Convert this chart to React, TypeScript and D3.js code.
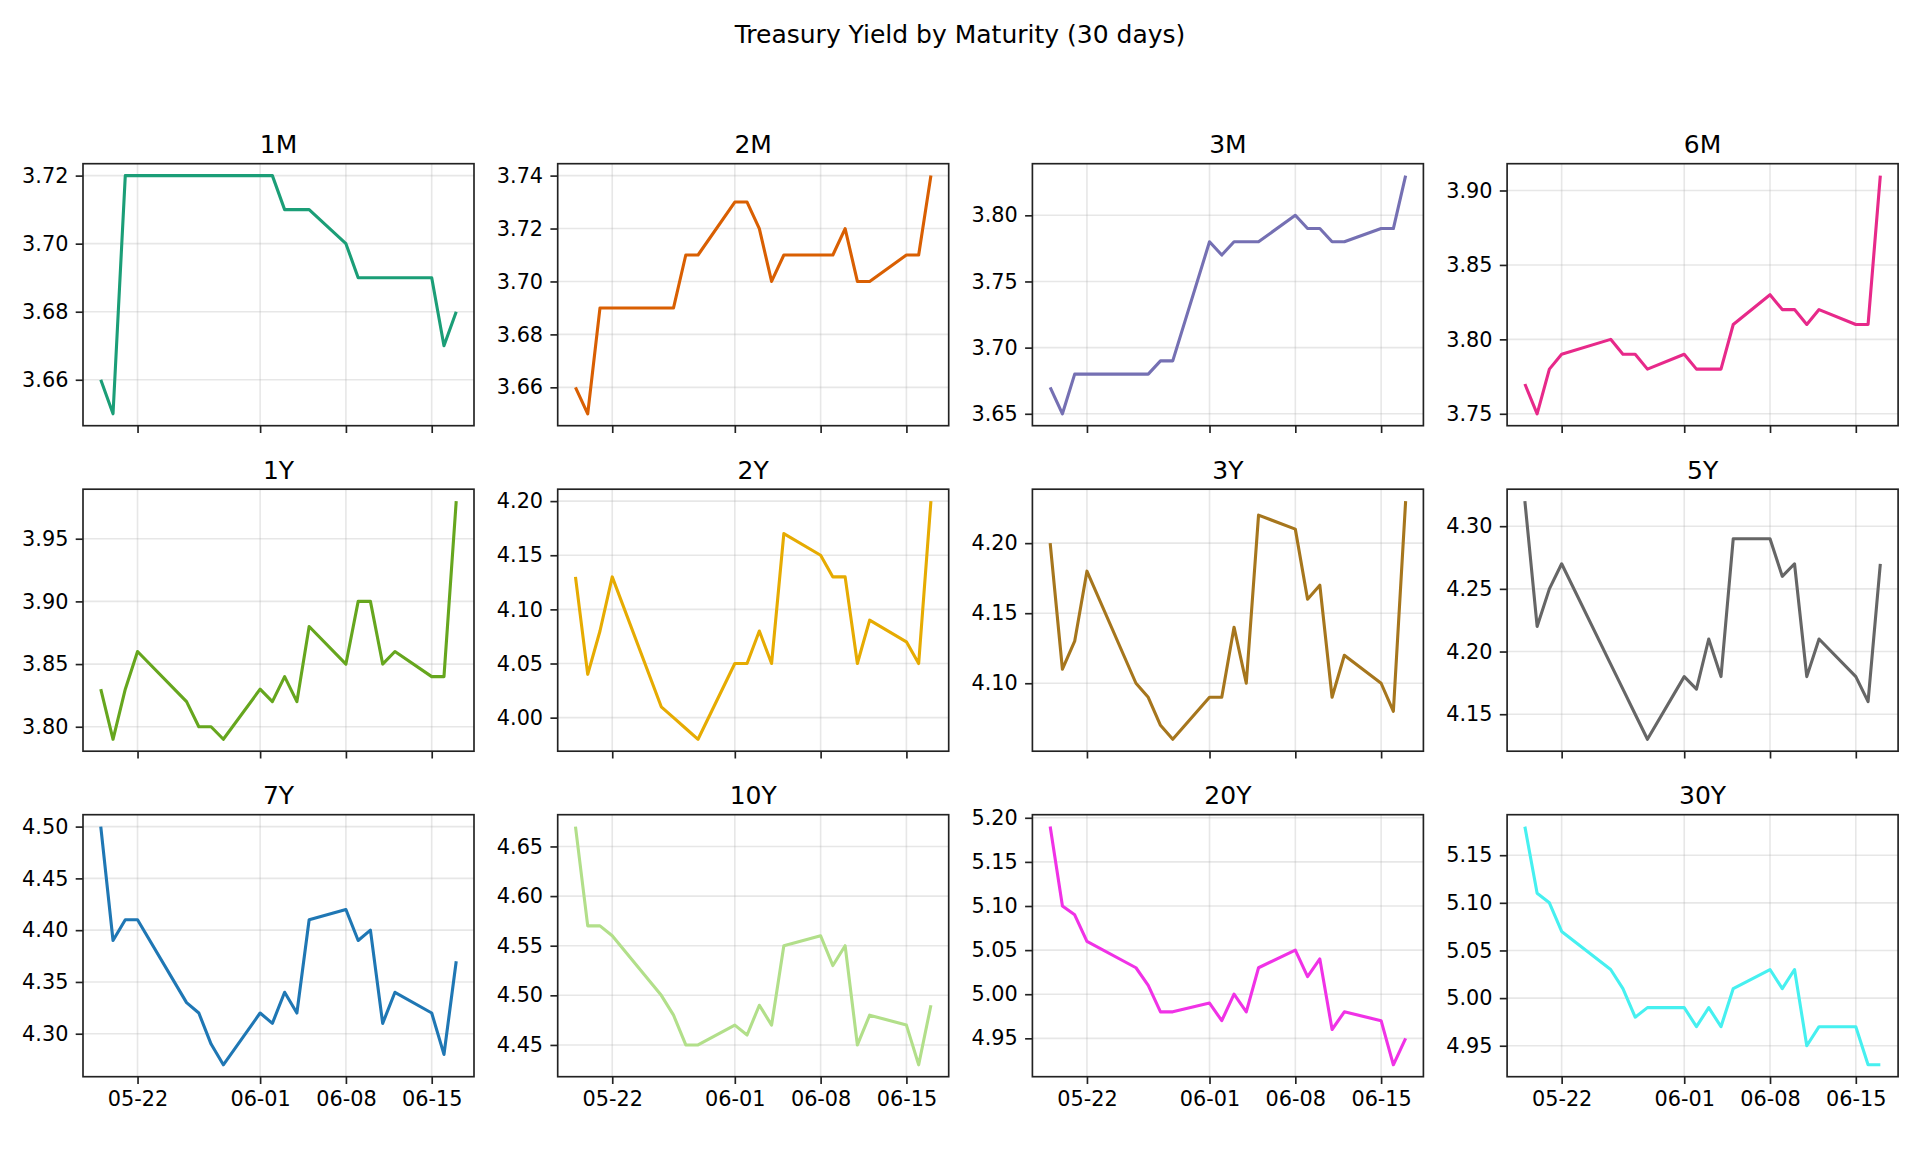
import { useEffect, useRef } from 'react';
import * as d3 from 'd3';

const WIDTH = 1920;
const HEIGHT = 1170;

// trading days shown on every panel
const DATES = [
  '2026-05-19', '2026-05-20', '2026-05-21', '2026-05-22',
  '2026-05-26', '2026-05-27', '2026-05-28', '2026-05-29',
  '2026-06-01', '2026-06-02', '2026-06-03', '2026-06-04', '2026-06-05',
  '2026-06-08', '2026-06-09', '2026-06-10', '2026-06-11', '2026-06-12',
  '2026-06-15', '2026-06-16', '2026-06-17',
];

const MATURITIES = ['1M', '2M', '3M', '6M', '1Y', '2Y', '3Y', '5Y', '7Y', '10Y', '20Y', '30Y'];

const COLORS = [
  '#1b9e77', '#d95f02', '#7570b3', '#e7298a',
  '#66a61e', '#e6ab02', '#a6761d', '#666666',
  '#1f77b4', '#b2df8a', '#f032e6', '#46f0f0',
];

const Y_1M = [3.66, 3.65, 3.72, 3.72, 3.72, 3.72, 3.72, 3.72, 3.72, 3.72, 3.71, 3.71, 3.71, 3.70, 3.69, 3.69, 3.69, 3.69, 3.69, 3.67, 3.68];
const Y_2M = [3.66, 3.65, 3.69, 3.69, 3.69, 3.69, 3.71, 3.71, 3.73, 3.73, 3.72, 3.70, 3.71, 3.71, 3.71, 3.72, 3.70, 3.70, 3.71, 3.71, 3.74];
const Y_3M = [3.67, 3.65, 3.68, 3.68, 3.68, 3.68, 3.69, 3.69, 3.78, 3.77, 3.78, 3.78, 3.78, 3.80, 3.79, 3.79, 3.78, 3.78, 3.79, 3.79, 3.83];
const Y_6M = [3.77, 3.75, 3.78, 3.79, 3.80, 3.79, 3.79, 3.78, 3.79, 3.78, 3.78, 3.78, 3.81, 3.83, 3.82, 3.82, 3.81, 3.82, 3.81, 3.81, 3.91];
const Y_1Y = [3.83, 3.79, 3.83, 3.86, 3.82, 3.80, 3.80, 3.79, 3.83, 3.82, 3.84, 3.82, 3.88, 3.85, 3.90, 3.90, 3.85, 3.86, 3.84, 3.84, 3.98];
const Y_2Y = [4.13, 4.04, 4.08, 4.13, 4.01, 4.00, 3.99, 3.98, 4.05, 4.05, 4.08, 4.05, 4.17, 4.15, 4.13, 4.13, 4.05, 4.09, 4.07, 4.05, 4.20];
const Y_3Y = [4.20, 4.11, 4.13, 4.18, 4.10, 4.09, 4.07, 4.06, 4.09, 4.09, 4.14, 4.10, 4.22, 4.21, 4.16, 4.17, 4.09, 4.12, 4.10, 4.08, 4.23];
const Y_5Y = [4.32, 4.22, 4.25, 4.27, 4.19, 4.17, 4.15, 4.13, 4.18, 4.17, 4.21, 4.18, 4.29, 4.29, 4.26, 4.27, 4.18, 4.21, 4.18, 4.16, 4.27];
const Y_7Y = [4.50, 4.39, 4.41, 4.41, 4.33, 4.32, 4.29, 4.27, 4.32, 4.31, 4.34, 4.32, 4.41, 4.42, 4.39, 4.40, 4.31, 4.34, 4.32, 4.28, 4.37];
const Y_10Y = [4.67, 4.57, 4.57, 4.56, 4.50, 4.48, 4.45, 4.45, 4.47, 4.46, 4.49, 4.47, 4.55, 4.56, 4.53, 4.55, 4.45, 4.48, 4.47, 4.43, 4.49];
const Y_20Y = [5.19, 5.10, 5.09, 5.06, 5.03, 5.01, 4.98, 4.98, 4.99, 4.97, 5.00, 4.98, 5.03, 5.05, 5.02, 5.04, 4.96, 4.98, 4.97, 4.92, 4.95];
const Y_30Y = [5.18, 5.11, 5.10, 5.07, 5.03, 5.01, 4.98, 4.99, 4.99, 4.97, 4.99, 4.97, 5.01, 5.03, 5.01, 5.03, 4.95, 4.97, 4.97, 4.93, 4.93];

const SERIES = [Y_1M, Y_2M, Y_3M, Y_6M, Y_1Y, Y_2Y, Y_3Y, Y_5Y, Y_7Y, Y_10Y, Y_20Y, Y_30Y];

const Y_TICKS = [
  [3.66, 3.68, 3.70, 3.72],
  [3.66, 3.68, 3.70, 3.72, 3.74],
  [3.65, 3.70, 3.75, 3.80],
  [3.75, 3.80, 3.85, 3.90],
  [3.80, 3.85, 3.90, 3.95],
  [4.00, 4.05, 4.10, 4.15, 4.20],
  [4.10, 4.15, 4.20],
  [4.15, 4.20, 4.25, 4.30],
  [4.30, 4.35, 4.40, 4.45, 4.50],
  [4.45, 4.50, 4.55, 4.60, 4.65],
  [4.95, 5.00, 5.05, 5.10, 5.15, 5.20],
  [4.95, 5.00, 5.05, 5.10, 5.15],
];

const X_TICKS = ['2026-05-22', '2026-06-01', '2026-06-08', '2026-06-15'];

const TITLE = 'Treasury Yield by Maturity (30 days)';

// grid geometry (matplotlib-ish, 150 dpi)
const NCOLS = 4;
const LEFT = 83;
const TOP = 163.7;
const COL_STEP = 474.7;
const ROW_STEP = 325.5;
const PW = 391;
const PH = 262;
const FONT = '"DejaVu Sans", sans-serif';
const TICK_FS = 20.8;
const TITLE_FS = 25;

export default function App() {
  const svgRef = useRef<SVGSVGElement | null>(null);

  useEffect(() => {
    if (!svgRef.current) return;
    const svg = d3.select(svgRef.current);
    svg.selectAll('*').remove();

    svg.append('rect').attr('width', WIDTH).attr('height', HEIGHT).attr('fill', '#fff');

    svg.append('text')
      .attr('x', WIDTH / 2)
      .attr('y', 42.5)
      .attr('text-anchor', 'middle')
      .attr('font-family', FONT)
      .attr('font-size', TITLE_FS)
      .attr('fill', '#000')
      .text(TITLE);

    const parse = d3.utcParse('%Y-%m-%d');
    const dates = DATES.map((d) => parse(d) as Date);
    const xTicks = X_TICKS.map((d) => parse(d) as Date);
    const t0 = +dates[0];
    const t1 = +dates[dates.length - 1];
    const xPad = (t1 - t0) * 0.05;
    const x = d3.scaleUtc()
      .domain([new Date(t0 - xPad), new Date(t1 + xPad)])
      .range([0, PW]);

    const nRows = Math.ceil(MATURITIES.length / NCOLS);

    MATURITIES.forEach((name, i) => {
      const col = i % NCOLS;
      const row = Math.floor(i / NCOLS);
      const values = SERIES[i];
      const g = svg.append('g')
        .attr('transform', `translate(${LEFT + col * COL_STEP},${TOP + row * ROW_STEP})`);

      const [lo, hi] = d3.extent(values) as [number, number];
      const yPad = (hi - lo) * 0.05;
      const y = d3.scaleLinear().domain([lo - yPad, hi + yPad]).range([PH, 0]);

      // grid
      const grid = g.append('g').attr('stroke', '#b0b0b0').attr('stroke-opacity', 0.3).attr('stroke-width', 1.6);
      grid.selectAll('line.gx').data(xTicks).join('line')
        .attr('class', 'gx')
        .attr('x1', (d) => x(d)).attr('x2', (d) => x(d))
        .attr('y1', 0).attr('y2', PH);
      grid.selectAll('line.gy').data(Y_TICKS[i]).join('line')
        .attr('class', 'gy')
        .attr('x1', 0).attr('x2', PW)
        .attr('y1', (d) => y(d)).attr('y2', (d) => y(d));

      // series line
      const line = d3.line<number>()
        .x((_, k) => x(dates[k]))
        .y((d) => y(d));
      g.append('path')
        .datum(values)
        .attr('fill', 'none')
        .attr('stroke', COLORS[i])
        .attr('stroke-width', 3.1)
        .attr('stroke-linejoin', 'round')
        .attr('stroke-linecap', 'butt')
        .attr('d', line);

      // y axis
      const yAxis = g.append('g')
        .call(d3.axisLeft(y).tickValues(Y_TICKS[i]).tickSize(7.3).tickPadding(7.3).tickFormat(d3.format('.2f')));
      yAxis.select('.domain').remove();

      // x axis (labels only on the bottom row)
      const xAxis = g.append('g')
        .attr('transform', `translate(0,${PH})`)
        .call(d3.axisBottom(x).tickValues(xTicks).tickSize(7.3).tickPadding(7.3)
          .tickFormat((d) => (row === nRows - 1 ? d3.utcFormat('%m-%d')(d as Date) : '')));
      xAxis.select('.domain').remove();

      [yAxis, xAxis].forEach((ax) => {
        ax.attr('font-family', FONT);
        ax.selectAll('line').attr('stroke', '#222').attr('stroke-width', 1.67);
        ax.selectAll('text')
          .attr('fill', '#000')
          .attr('font-family', FONT)
          .attr('font-size', TICK_FS);
      });

      // spines
      g.append('rect')
        .attr('width', PW).attr('height', PH)
        .attr('fill', 'none')
        .attr('stroke', '#222')
        .attr('stroke-width', 1.67);

      g.append('text')
        .attr('x', PW / 2)
        .attr('y', -10.5)
        .attr('text-anchor', 'middle')
        .attr('font-family', FONT)
        .attr('font-size', TITLE_FS)
        .attr('fill', '#000')
        .text(name);
    });
  }, []);

  return (
    <svg
      ref={svgRef}
      width={WIDTH}
      height={HEIGHT}
      style={{ position: 'absolute', left: 0, top: 0, display: 'block' }}
    />
  );
}
